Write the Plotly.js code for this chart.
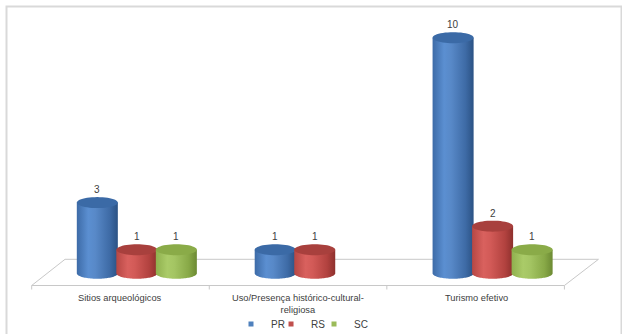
<!DOCTYPE html>
<html>
<head>
<meta charset="utf-8">
<script src="https://cdn.plot.ly/plotly-3.0.1.min.js"></script>
<style>
  html, body { margin: 0; padding: 0; background: #ffffff; }
  #chart { width: 622px; height: 334px; }
</style>
</head>
<body>
<div id="chart"></div>
<script>
// Categories and series values
const categories = ['Sitios arqueológicos', 'Uso/Presença histórico-cultural-religiosa', 'Turismo efetivo'];
const categoryLabels = ['Sitios arqueológicos', 'Uso/Presença histórico-cultural-<br>religiosa', 'Turismo efetivo'];
const seriesNames = ['PR', 'RS', 'SC'];
const valuesPR = [3, 1, 10];
const valuesRS = [1, 1, 2];
const valuesSC = [1, null, 1];

// Cylinder styling per series
const seriesStyle = {
  PR: { legend: '#4f81bd', top: '#3b6aa6',
        scale: [[0, '#3d6ba7'], [0.28, '#5b8fd1'], [0.45, '#5889c8'], [0.8, '#3e6ba6'], [1, '#2b5284']] },
  RS: { legend: '#c0504d', top: '#a8403d',
        scale: [[0, '#b64744'], [0.28, '#d9615e'], [0.45, '#d25a57'], [0.8, '#b2423f'], [1, '#8e302d']] },
  SC: { legend: '#9bbb59', top: '#8aab48',
        scale: [[0, '#8fb04e'], [0.28, '#aacb68'], [0.45, '#a4c563'], [0.8, '#88a947'], [1, '#6c8a33']] }
};

// Geometry of the cylinders in axis units
const barStep = 0.2221;   // centre-to-centre distance inside a group
const barHalf = 0.1153;   // half width of a cylinder
const capRy = 0.233;      // vertical radius of the elliptical caps
const N = 48;

const seriesValues = [valuesPR, valuesRS, valuesSC];
const traces = [];

function bodyPath(cx, v) {
  const xs = [cx - barHalf, cx - barHalf];
  const ys = [v, 0];
  for (let k = 0; k <= N; k++) {
    const t = Math.PI + Math.PI * k / N;
    xs.push(cx + barHalf * Math.cos(t));
    ys.push(capRy * Math.sin(t));
  }
  xs.push(cx + barHalf); ys.push(v);
  xs.push(cx - barHalf); ys.push(v);
  return { xs, ys };
}

function capPath(cx, v) {
  const xs = [], ys = [];
  for (let k = 0; k <= N; k++) {
    const t = 2 * Math.PI * k / N;
    xs.push(cx + barHalf * Math.cos(t));
    ys.push(v + capRy * Math.sin(t));
  }
  return { xs, ys };
}

const annotations = [];

seriesNames.forEach((name, s) => {
  const st = seriesStyle[name];
  seriesValues[s].forEach((v, i) => {
    if (v === null || v === undefined) return;
    const cx = i + (s - 1) * barStep;
    const b = bodyPath(cx, v);
    traces.push({
      type: 'scatter', x: b.xs, y: b.ys, mode: 'none', fill: 'toself',
      fillgradient: { type: 'horizontal', colorscale: st.scale },
      hoverinfo: 'skip', showlegend: false, legendgroup: name
    });
    const c = capPath(cx, v);
    traces.push({
      type: 'scatter', x: c.xs, y: c.ys, mode: 'none', fill: 'toself',
      fillcolor: st.top, hoverinfo: 'skip', showlegend: false, legendgroup: name
    });
    annotations.push({
      x: cx, y: v, xref: 'x', yref: 'y', text: String(v), showarrow: false,
      yanchor: 'middle', yshift: 13,
      font: { family: 'Liberation Sans, Arial, sans-serif', size: 10, color: '#404040' }
    });
  });
});

// Legend entries, one small legend box per series
const legendIds = ['legend', 'legend2', 'legend3'];
const legendX = [0.3671, 0.4336, 0.5050];
seriesNames.forEach((name, s) => {
  traces.push({
    type: 'scatter', x: [null], y: [null], mode: 'markers', name: name,
    legendgroup: name, legend: legendIds[s],
    marker: { symbol: 'square', size: 5, color: seriesStyle[name].legend }
  });
});

// Category labels along the front edge of the floor
categoryLabels.forEach((lab, i) => {
  annotations.push({
    x: i, y: -0.75, xref: 'x', yref: 'y', text: lab, showarrow: false,
    xshift: -16.5, yanchor: 'top', align: 'center',
    font: { family: 'Liberation Sans, Arial, sans-serif', size: 9.3, color: '#404040' }
  });
});

// Floor in perspective and category separators
const floorFrontY = -0.518, floorBackY = 0.594;
const floorFrontX0 = -0.591, floorFrontX1 = 2.4037;
const floorBackX0 = -0.4037, floorBackX1 = 2.5951;
const shapes = [
  { type: 'path', xref: 'x', yref: 'y', layer: 'below',
    path: `M${floorFrontX0},${floorFrontY} L${floorBackX0},${floorBackY} L${floorBackX1},${floorBackY} L${floorFrontX1},${floorFrontY} Z`,
    line: { color: '#c8c8c8', width: 1 }, fillcolor: 'rgba(0,0,0,0)' }
];
for (let k = 0; k <= categories.length; k++) {
  const tx = floorFrontX0 + k * (floorFrontX1 - floorFrontX0) / categories.length;
  shapes.push({ type: 'line', xref: 'x', yref: 'y', layer: 'below',
    x0: tx, x1: tx, y0: floorFrontY, y1: floorFrontY - 0.17,
    line: { color: '#c8c8c8', width: 1 } });
}
// Chart area border
shapes.push({ type: 'rect', xref: 'paper', yref: 'paper', layer: 'below',
  x0: -0.0058, x1: 1.0158, y0: -0.08, y1: 1.0345,
  line: { color: '#d9d9d9', width: 2 }, fillcolor: 'rgba(0,0,0,0)' });

const legendBase = {
  orientation: 'h', xanchor: 'left', y: -0.01, yanchor: 'middle',
  bgcolor: 'rgba(0,0,0,0)', font: { size: 10, color: '#404040' }, itemwidth: 30
};

const layout = {
  width: 622, height: 334,
  margin: { l: 10, r: 10, t: 17, b: 13, autoexpand: false },
  paper_bgcolor: '#ffffff', plot_bgcolor: '#ffffff',
  font: { family: 'Liberation Sans, Arial, sans-serif', size: 10, color: '#404040' },
  xaxis: { range: [-0.713, 2.6712], visible: false, fixedrange: true },
  yaxis: { range: [-2.025, 10.878], visible: false, fixedrange: true },
  showlegend: true,
  legend: Object.assign({}, legendBase, { x: legendX[0] }),
  legend2: Object.assign({}, legendBase, { x: legendX[1] }),
  legend3: Object.assign({}, legendBase, { x: legendX[2] }),
  shapes: shapes,
  annotations: annotations
};

Plotly.newPlot('chart', traces, layout, { displayModeBar: false, staticPlot: true });
</script>
</body>
</html>
